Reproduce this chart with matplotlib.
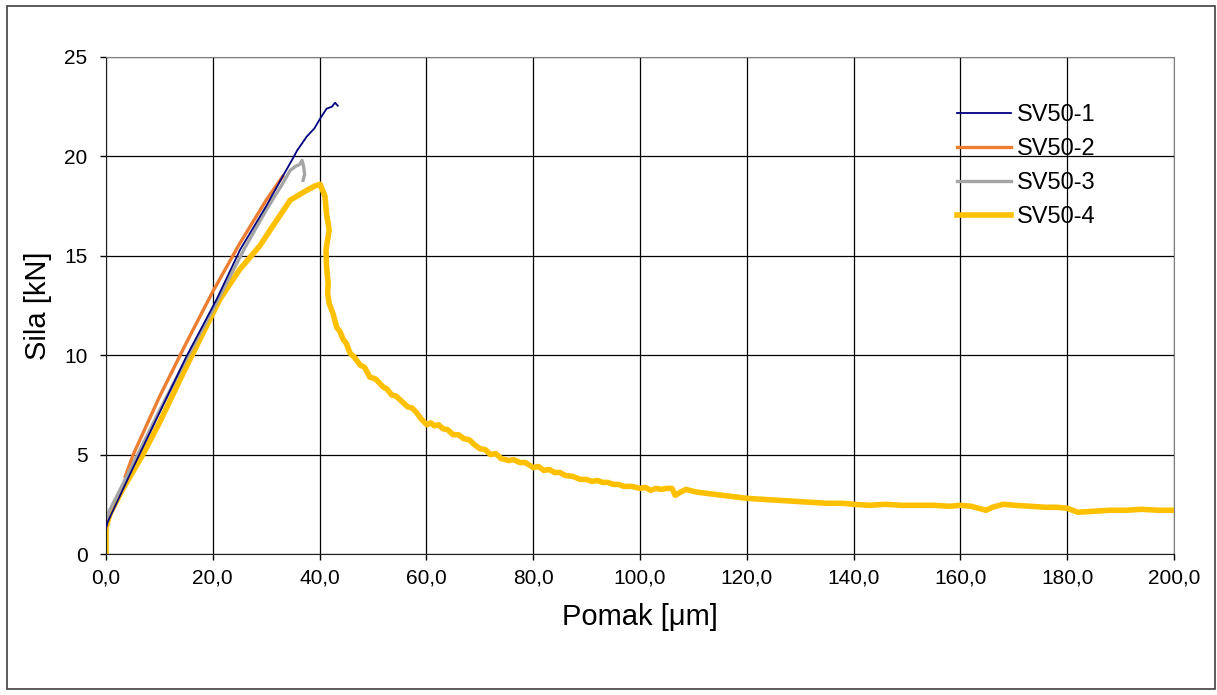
import numpy as np
import matplotlib
matplotlib.use('Agg')
import matplotlib.pyplot as plt
from matplotlib.patches import Rectangle

plt.rcParams['font.family'] = ['Liberation Sans', 'DejaVu Sans']

# SV50-1
x1 = [0, 0.3, 5, 10, 15, 20.7, 25.1, 30, 33.1, 35.0, 35.8, 37.6, 39.0, 40.1, 41.3, 42.3, 42.9, 43.4]
y1 = [1.3, 1.6, 4.3, 7.1, 9.9, 12.8, 15.3, 17.5, 19.0, 19.9, 20.3, 21.0, 21.4, 21.9, 22.4, 22.5, 22.7, 22.55]
# SV50-2
x2 = [3.6, 5.1, 10, 15, 20, 25, 30, 33.1]
y2 = [3.9, 5.0, 7.9, 10.6, 13.2, 15.6, 17.8, 19.0]
# SV50-3
x3 = [0, 0.5, 5, 10, 15, 20, 26, 30, 33, 34.5, 35.5, 36.3, 36.7, 37.0, 37.2, 36.9]
y3 = [1.5, 2.1, 4.5, 7.2, 9.8, 12.3, 15.4, 17.3, 18.6, 19.3, 19.5, 19.6, 19.8, 19.5, 19.1, 18.8]
# SV50-4
x4 = [0, 0, 0.7, 3, 6.9, 10, 15, 21.3, 25, 28.8, 31, 34.5, 37, 39, 40.1, 41.0, 41.3, 41.8, 41.2,
      41.3, 41.6, 41.5, 41.8, 42.5, 43.2, 43.8, 44.4, 45.0, 45.7, 46.5, 47.6, 48.4, 49.4, 50.5,
      51.9, 52.6, 53.5, 54.3, 55.1, 56.5, 57.3, 58.2, 59.0, 60.1, 60.8, 61.5, 62.3, 63.1, 64.0,
      65, 66, 67, 68, 69, 70, 71, 72, 73, 74, 75.5, 76.3, 77.5, 78.5, 80, 81, 82, 83, 84, 85,
      86, 87.5, 88.8, 90, 91, 92, 93, 94, 95, 96, 97, 98.5, 100, 101, 102, 103, 104, 105, 106,
      106.6, 107.5, 108.6, 110, 111, 112.5, 114, 115.5, 117, 118.5, 120, 123, 126, 129, 132,
      135, 138, 140, 143, 146, 149, 152, 155, 158, 160, 162, 164.8, 166, 168, 170.2, 173, 176,
      178, 180, 182, 185, 188, 191, 194, 197, 200]
y4 = [0, 1.3, 2.0, 3.2, 5.0, 6.6, 9.4, 12.8, 14.3, 15.5, 16.4, 17.8, 18.2, 18.5, 18.6, 18.0, 17.1, 16.3, 15.3,
      14.45, 13.6, 13.1, 12.6, 12.1, 11.4, 11.2, 10.8, 10.6, 10.1, 9.9, 9.5, 9.4, 8.9, 8.8,
      8.4, 8.3, 8.0, 7.95, 7.75, 7.4, 7.35, 7.1, 6.8, 6.5, 6.6, 6.45, 6.5, 6.3, 6.25,
      6.0, 6.0, 5.8, 5.75, 5.5, 5.3, 5.25, 5.0, 5.05, 4.8, 4.7, 4.75, 4.6, 4.6, 4.35, 4.4, 4.2, 4.25, 4.1, 4.1,
      3.95, 3.9, 3.75, 3.75, 3.65, 3.7, 3.6, 3.6, 3.5, 3.5, 3.4, 3.4, 3.3, 3.35,
      3.2, 3.3, 3.25, 3.3, 3.3, 2.95, 3.1, 3.25, 3.15, 3.1, 3.05, 3.0, 2.95, 2.9, 2.85, 2.8, 2.75, 2.7,
      2.65, 2.6, 2.55, 2.55, 2.5, 2.45,
      2.5, 2.45, 2.45, 2.45, 2.4, 2.45, 2.4, 2.2, 2.35, 2.5, 2.45, 2.4, 2.35, 2.35, 2.3, 2.1, 2.15,
      2.2, 2.2, 2.25, 2.2, 2.2]

names = ['SV50-1', 'SV50-2', 'SV50-3', 'SV50-4']
xticks = [0, 20, 40, 60, 80, 100, 120, 140, 160, 180, 200]
xticklabels = ['0,0', '20,0', '40,0', '60,0', '80,0', '100,0', '120,0', '140,0', '160,0', '180,0', '200,0']
yticks = [0, 5, 10, 15, 20, 25]

W, H = 1217, 695
fig = plt.figure(figsize=(W / 100, H / 100), dpi=100)
ax = fig.add_axes([106 / W, 1 - 554 / H, (1174 - 106) / W, (554 - 57) / H])

ax.plot(x1, y1, color='#000080', lw=1.3, label=names[0], zorder=3)
ax.plot(x2, y2, color='#ED7D31', lw=2.4, label=names[1], zorder=2)
ax.plot(x3, y3, color='#A5A5A5', lw=2.4, label=names[2], zorder=2.5)
ax.plot(x4, y4, color='#FFC000', lw=4.0, label=names[3], zorder=2, solid_joinstyle='round')

ax.set_xlim(0, 200)
ax.set_ylim(0, 25)
ax.set_xticks(xticks)
ax.set_xticklabels(xticklabels)
ax.set_yticks(yticks)
ax.grid(True, color='black', lw=0.9)
ax.set_axisbelow(True)
ax.tick_params(direction='out', length=4.3, width=1, labelsize=15, colors='black')
ax.tick_params(axis='y', pad=9)
ax.tick_params(axis='x', pad=6)
for s in ['top', 'right']:
    ax.spines[s].set_color('#808080')
for s in ['left', 'bottom']:
    ax.spines[s].set_color('#202020')

ax.set_xlabel('Pomak [μm]', fontsize=21)
ax.set_ylabel('Sila [kN]', fontsize=21)
ax.xaxis.set_label_coords(0.5, -(603 - 554) / 497)
ax.yaxis.set_label_coords(-(52 - 106) / -1068, 0.5)

leg = ax.legend(loc='upper left', bbox_to_anchor=(957 / W, 1 - 104 / H), bbox_transform=fig.transFigure,
                frameon=False, fontsize=17, handlelength=2.3, handletextpad=0.22,
                labelspacing=0.51, borderpad=0, borderaxespad=0)

fig.patches.append(Rectangle((7 / W, 6 / H), 1208 / W, 683 / H, transform=fig.transFigure,
                             fill=False, edgecolor='#404040', lw=1.2))

fig.savefig('out.png', dpi=100)
